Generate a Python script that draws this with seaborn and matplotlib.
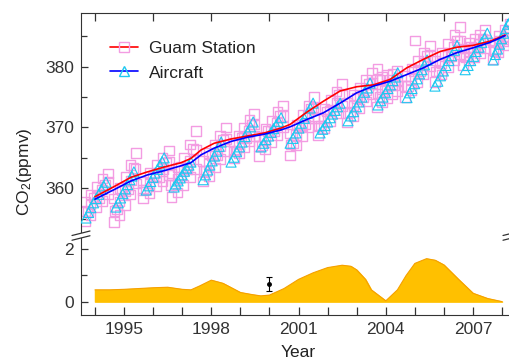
import matplotlib
matplotlib.use("Agg")
import matplotlib.pyplot as plt
from matplotlib.lines import Line2D
import seaborn as sns

# Guam station samples, one line per yearly cluster
guam_year = [
    1993.65, 1993.65, 1993.66, 1993.85, 1993.85, 1993.86, 1994.05, 1994.05, 1994.06, 1994.25, 1994.25, 1994.26, 1994.45, 1994.45, 1994.44,
    1994.66, 1994.67, 1994.66, 1994.85, 1994.85, 1994.86, 1995.04, 1995.04, 1995.05, 1995.22, 1995.23, 1995.22, 1995.41, 1995.40, 1995.41,
    1995.66, 1995.65, 1995.66, 1995.88, 1995.88, 1995.89, 1996.10, 1996.10, 1996.11, 1996.32, 1996.33, 1996.32, 1996.54, 1996.55, 1996.54,
    1996.63, 1996.62, 1996.63, 1996.84, 1996.84, 1996.85, 1997.05, 1997.05, 1997.06, 1997.26, 1997.27, 1997.26, 1997.47, 1997.48, 1997.47,
    1997.72, 1997.73, 1997.72, 1997.92, 1997.92, 1997.93, 1998.12, 1998.12, 1998.13, 1998.31, 1998.32, 1998.31, 1998.50, 1998.51, 1998.50,
    1998.78, 1998.79, 1998.78, 1998.95, 1998.95, 1998.96, 1999.12, 1999.13, 1999.12, 1999.30, 1999.30, 1999.31, 1999.47, 1999.46, 1999.47,
    1999.64, 1999.65, 1999.64, 1999.85, 1999.85, 1999.86, 2000.06, 2000.06, 2000.07, 2000.27, 2000.27, 2000.28, 2000.47, 2000.46, 2000.47,
    2000.71, 2000.72, 2000.71, 2000.92, 2000.92, 2000.93, 2001.12, 2001.12, 2001.13, 2001.33, 2001.33, 2001.34, 2001.53, 2001.52, 2001.53,
    2001.67, 2001.68, 2001.67, 2001.88, 2001.88, 2001.89, 2002.09, 2002.09, 2002.10, 2002.30, 2002.30, 2002.31, 2002.50, 2002.49, 2002.50,
    2002.67, 2002.68, 2002.67, 2002.89, 2002.89, 2002.90, 2003.10, 2003.10, 2003.11, 2003.32, 2003.32, 2003.33, 2003.53, 2003.52, 2003.53,
    2003.70, 2003.71, 2003.70, 2003.72, 2003.87, 2003.87, 2003.88, 2004.04, 2004.05, 2004.04, 2004.22, 2004.22, 2004.23, 2004.39, 2004.38, 2004.39,
    2004.66, 2004.67, 2004.66, 2004.87, 2004.87, 2004.88, 2005.09, 2005.09, 2005.10, 2005.30, 2005.30, 2005.31, 2005.52, 2005.51, 2005.52, 2005.00,
    2005.70, 2005.71, 2005.70, 2005.92, 2005.92, 2005.93, 2006.13, 2006.13, 2006.14, 2006.35, 2006.35, 2006.36, 2006.56, 2006.55, 2006.56,
    2006.66, 2006.67, 2006.66, 2006.85, 2006.85, 2006.86, 2007.04, 2007.04, 2007.05, 2007.23, 2007.23, 2007.24, 2007.42, 2007.41, 2007.42,
    2007.69, 2007.70, 2007.69, 2007.88, 2007.88, 2007.89, 2008.08, 2008.08, 2008.09, 2008.26, 2008.26, 2008.27,
]
guam_co2 = [
    354.6, 356.2, 357.8, 355.5, 357.3, 359.0, 356.8, 358.6, 360.3, 357.9, 359.8, 361.6, 359.0, 361.0, 362.4,
    354.4, 356.3, 358.3, 355.6, 357.8, 360.0, 357.2, 359.5, 361.8, 359.0, 361.3, 363.8, 360.8, 363.2, 365.8,
    358.4, 359.7, 361.0, 359.2, 360.8, 362.5, 360.3, 362.0, 363.8, 361.2, 363.2, 365.0, 362.2, 364.3, 366.2,
    358.6, 360.5, 362.4, 359.3, 361.5, 363.4, 360.5, 362.8, 365.0, 361.8, 364.5, 367.2, 363.2, 366.3, 369.4,
    361.1, 362.8, 364.5, 362.0, 364.0, 365.8, 363.4, 365.4, 367.2, 364.8, 366.9, 368.7, 366.1, 368.1, 370.0,
    364.9, 366.2, 367.5, 365.8, 367.3, 368.7, 366.8, 368.4, 369.9, 367.7, 369.5, 371.2, 368.6, 370.5, 372.2,
    365.3, 366.9, 368.5, 366.4, 368.1, 369.8, 367.6, 369.4, 371.1, 368.8, 370.7, 372.5, 370.1, 371.9, 373.6,
    365.4, 367.2, 369.0, 367.0, 368.8, 370.5, 368.6, 370.4, 372.1, 370.0, 371.9, 373.6, 371.5, 373.3, 375.0,
    368.8, 370.2, 371.6, 369.9, 371.5, 373.0, 371.1, 372.8, 374.5, 372.3, 374.1, 375.9, 373.5, 375.4, 377.2,
    370.8, 372.4, 374.0, 371.9, 373.6, 375.3, 373.1, 374.9, 376.6, 374.3, 376.1, 377.8, 375.5, 377.3, 379.0,
    373.4, 375.6, 377.9, 379.6, 374.2, 376.3, 378.3, 374.8, 376.8, 378.6, 375.4, 377.2, 378.9, 376.0, 377.8, 379.4,
    375.0, 376.8, 378.5, 376.2, 378.0, 379.7, 377.4, 379.3, 381.0, 378.7, 380.6, 382.3, 380.0, 381.8, 383.5, 384.3,
    377.5, 379.2, 381.0, 378.7, 380.5, 382.3, 379.9, 381.9, 383.8, 381.0, 383.2, 385.2, 382.0, 384.3, 386.5,
    380.3, 381.7, 383.0, 381.0, 382.4, 383.9, 381.6, 383.1, 384.6, 382.3, 383.8, 385.3, 383.0, 384.5, 386.0,
    381.3, 382.7, 384.0, 382.4, 383.8, 385.1, 383.5, 384.9, 386.1, 384.6, 385.9, 387.0,
]
# more Guam samples lying between the columns above
guam_year_b = [
    1993.75, 1993.95, 1994.15, 1994.35, 1994.75, 1994.94, 1995.13, 1995.32,
    1995.76, 1995.99, 1996.21, 1996.44, 1996.73, 1996.94, 1997.16, 1997.37,
    1997.82, 1998.02, 1998.21, 1998.41, 1998.87, 1999.04, 1999.21, 1999.38,
    1999.74, 1999.95, 2000.16, 2000.37, 2000.81, 2001.02, 2001.22, 2001.43,
    2001.77, 2001.98, 2002.19, 2002.40, 2002.78, 2003.00, 2003.21, 2003.42,
    2003.79, 2003.79, 2003.96, 2004.13, 2004.30, 2004.77, 2004.98, 2005.20, 2005.41,
    2005.81, 2006.02, 2006.24, 2006.45, 2006.76, 2006.94, 2007.14, 2007.33,
    2007.76, 2007.91, 2008.05, 2008.20,
]
guam_co2_b = [
    356.2, 358.5, 358.3, 360.6, 356.5, 359.7, 359.9, 363.3,
    359.8, 361.9, 361.8, 364.2, 360.5, 363.5, 363.2, 366.5,
    362.8, 365.4, 365.4, 368.0, 366.2, 368.3, 368.2, 370.5,
    367.0, 369.4, 369.4, 371.9, 367.4, 370.1, 370.5, 373.1,
    370.3, 372.6, 372.8, 375.3, 372.5, 374.8, 374.9, 377.2,
    375.0, 377.8, 376.0, 377.8, 377.0, 376.8, 379.2, 379.3, 381.8,
    379.3, 381.8, 381.7, 384.3, 381.5, 383.2, 383.0, 384.6,
    382.6, 384.2, 384.2, 385.8,
]

# aircraft samples, one line per yearly cluster
aircraft_year = [
    1993.69, 1993.78, 1993.86, 1993.95, 1994.04, 1994.13, 1994.22, 1994.30, 1994.38,
    1994.72, 1994.80, 1994.88, 1994.96, 1995.04, 1995.12, 1995.20, 1995.27, 1995.34,
    1995.76, 1995.84, 1995.92, 1996.00, 1996.07, 1996.15, 1996.23, 1996.31, 1996.38,
    1996.72, 1996.79, 1996.86, 1996.93, 1997.00, 1997.08, 1997.15, 1997.23, 1997.30,
    1997.72, 1997.80, 1997.88, 1997.95, 1998.03, 1998.11, 1998.19, 1998.27, 1998.34,
    1998.68, 1998.78, 1998.87, 1998.97, 1999.06, 1999.16, 1999.25, 1999.35, 1999.44,
    1999.71, 1999.80, 1999.88, 1999.97, 2000.06, 2000.14, 2000.23, 2000.31, 2000.40,
    2000.71, 2000.81, 2000.91, 2001.01, 2001.10, 2001.20, 2001.30, 2001.40, 2001.50,
    2001.74, 2001.83, 2001.91, 2002.00, 2002.09, 2002.17, 2002.26, 2002.34, 2002.43,
    2002.70, 2002.80, 2002.89, 2002.99, 2003.08, 2003.18, 2003.27, 2003.37, 2003.46,
    2003.73, 2003.82, 2003.90, 2003.99, 2004.07, 2004.16, 2004.24, 2004.33, 2004.41,
    2004.73, 2004.82, 2004.90, 2004.99, 2005.08, 2005.16, 2005.25, 2005.33, 2005.42,
    2005.69, 2005.79, 2005.88, 2005.98, 2006.07, 2006.17, 2006.26, 2006.36, 2006.45,
    2006.73, 2006.83, 2006.92, 2007.02, 2007.11, 2007.21, 2007.30, 2007.40, 2007.49,
    2007.69, 2007.77, 2007.84, 2007.91, 2007.98, 2008.05, 2008.13, 2008.20, 2008.27,
]
aircraft_co2 = [
    355.1, 356.0, 356.8, 357.6, 358.3, 359.0, 359.8, 360.4, 361.0,
    356.9, 357.6, 358.4, 359.1, 359.9, 360.6, 361.4, 362.0, 362.7,
    359.7, 360.4, 361.1, 361.8, 362.5, 363.1, 363.8, 364.4, 365.0,
    360.2, 360.7, 361.2, 361.7, 362.2, 362.8, 363.3, 363.8, 364.3,
    361.4, 362.2, 363.0, 363.8, 364.5, 365.3, 366.1, 366.9, 367.6,
    364.3, 365.1, 366.0, 366.8, 367.6, 368.5, 369.3, 370.1, 370.9,
    366.8, 367.4, 368.0, 368.6, 369.2, 369.8, 370.4, 371.0, 371.6,
    367.4, 368.2, 369.1, 369.9, 370.7, 371.5, 372.3, 373.2, 374.0,
    369.1, 369.7, 370.3, 370.9, 371.6, 372.2, 372.8, 373.4, 374.0,
    371.1, 371.9, 372.6, 373.4, 374.2, 375.0, 375.8, 376.5, 377.3,
    373.7, 374.4, 375.0, 375.7, 376.4, 377.0, 377.7, 378.3, 379.0,
    374.9, 375.7, 376.4, 377.2, 378.0, 378.8, 379.5, 380.3, 381.1,
    376.8, 377.6, 378.5, 379.3, 380.2, 381.0, 381.8, 382.7, 383.5,
    379.5, 380.2, 381.0, 381.7, 382.5, 383.2, 384.0, 384.7, 385.5,
    381.1, 382.0, 382.9, 383.7, 384.6, 385.5, 386.3, 387.0, 387.4,
]

# smoothed trends
trend_year = [1994.0, 1994.67, 1995.24, 1995.81, 1996.39, 1996.96, 1997.3, 1997.65, 1998.1,
              1998.68, 1999.25, 1999.83, 2000.4, 2000.71, 2001.28, 2001.85, 2002.43, 2003.0,
              2003.57, 2004.15, 2004.72, 2005.29, 2005.87, 2006.44, 2007.0, 2007.59, 2008.1]
guam_trend = [358.6, 360.3, 361.8, 362.7, 363.5, 364.2, 364.9, 366.3, 367.4,
              368.1, 368.6, 369.1, 369.9, 370.5, 372.5, 374.3, 376.0, 376.7,
              377.0, 377.9, 379.8, 381.2, 382.5, 383.2, 383.5, 384.2, 385.2]
aircraft_trend = [358.2, 359.8, 361.2, 362.2, 362.9, 363.7, 364.2, 365.5, 366.6,
                  367.7, 368.4, 368.9, 369.6, 370.1, 371.3, 372.4, 374.0, 375.7,
                  376.8, 377.6, 378.7, 379.8, 381.2, 382.3, 383.1, 384.0, 385.1]

# difference Guam - aircraft
diff_year = [1994.0, 1994.5, 1995.0, 1995.5, 1996.0, 1996.5, 1997.0, 1997.3, 1997.6, 1998.0,
             1998.4, 1999.0, 1999.4, 1999.7, 2000.0, 2000.5, 2001.0, 2001.5, 2002.0, 2002.5,
             2002.8, 2003.0, 2003.3, 2003.5, 2004.0, 2004.4, 2004.7, 2005.0, 2005.4, 2005.7,
             2006.0, 2006.5, 2007.0, 2007.5, 2008.0]
diff_val = [0.45, 0.45, 0.47, 0.50, 0.53, 0.55, 0.47, 0.45, 0.60, 0.82,
            0.70, 0.35, 0.27, 0.22, 0.25, 0.50, 0.85, 1.10, 1.30, 1.39,
            1.35, 1.21, 0.85, 0.45, 0.03, 0.45, 1.00, 1.46, 1.64, 1.58,
            1.40, 0.85, 0.32, 0.12, 0.00]
err_year = [2000.0]
err_val = [0.66]
err_size = [0.27]

pink = "#F39CE2"
cyan = "#1EC8F0"
W, H = 510, 362

sns.set_style("ticks")
plt.rcParams["font.family"] = ["Liberation Sans", "DejaVu Sans"]
plt.rcParams["mathtext.default"] = "regular"
plt.rcParams["axes.edgecolor"] = "#333333"
plt.rcParams["xtick.color"] = "#333333"
plt.rcParams["ytick.color"] = "#333333"

fig = plt.figure(figsize=(W / 100, H / 100), dpi=100)
ax = fig.add_axes([81 / W, (H - 232) / H, 431 / W, 219 / H])
ax2 = fig.add_axes([81 / W, (H - 315) / H, 431 / W, 77 / H])

sns.scatterplot(x=guam_year + guam_year_b, y=guam_co2 + guam_co2_b, marker="s", s=48,
                facecolor="none", edgecolor=pink, linewidth=1.0, ax=ax, zorder=2)
sns.scatterplot(x=aircraft_year, y=aircraft_co2, marker="^", s=52, facecolor="none",
                edgecolor=cyan, linewidth=0.8, ax=ax, zorder=3)
sns.lineplot(x=trend_year, y=guam_trend, color="red", lw=1.2, sort=False,
             estimator=None, ax=ax, zorder=4)
sns.lineplot(x=trend_year, y=aircraft_trend, color="blue", lw=1.2, sort=False,
             estimator=None, ax=ax, zorder=4)

ax.set_xlim(1993.52, 2008.34)
ax.set_ylim(352.8, 388.83)
ax.spines[["bottom", "right"]].set_visible(False)
ax.xaxis.tick_top()
ax.set_xticks(range(1994, 2009, 2))
ax.set_xticklabels([])
ax.tick_params(axis="x", direction="in", length=6, width=0.9)
ax.set_yticks([360, 370, 380])
ax.set_yticks([355, 365, 375, 385], minor=True)
ax.tick_params(axis="y", which="major", direction="in", length=5, width=0.9,
               labelsize=12.5, pad=5)
ax.tick_params(axis="y", which="minor", direction="in", length=4, width=0.9)

handles = [
    Line2D([], [], color="red", lw=1.2, marker="s", mfc="none", mec=pink, ms=7),
    Line2D([], [], color="blue", lw=1.2, marker="^", mfc="none", mec=cyan, ms=7.5),
]
ax.legend(handles, ["Guam Station", "Aircraft"], loc="upper left",
          bbox_to_anchor=(0.068, 0.872), frameon=False, fontsize=12.5,
          handlelength=1.6, handletextpad=0.6, labelspacing=0.53,
          borderaxespad=0, borderpad=0, labelcolor="#222222")

ax2.fill_between(diff_year, diff_val, color="#FFC000", zorder=1)
sns.lineplot(x=diff_year, y=diff_val, color="#F5A000", lw=0.8, sort=False,
             estimator=None, ax=ax2, zorder=2)
ax2.errorbar(err_year, err_val, yerr=err_size, fmt="o", color="black", ms=2.5,
             capsize=2.5, elinewidth=0.8, capthick=0.8, zorder=3)

ax2.set_xlim(1993.52, 2008.34)
ax2.set_ylim(-0.51, 2.43)
ax2.spines[["top", "right"]].set_visible(False)
ax2.set_xticks([1995, 1998, 2001, 2004, 2007])
ax2.set_xticks(range(1994, 2009), minor=True)
ax2.tick_params(axis="x", which="both", direction="in", length=6, width=0.9,
                labelsize=12.5, pad=5)
ax2.set_yticks([0, 2])
ax2.set_yticks([1], minor=True)
ax2.tick_params(axis="y", which="major", direction="in", length=5, width=0.9,
                labelsize=12.5, pad=5)
ax2.tick_params(axis="y", which="minor", direction="in", length=4, width=0.9)
ax2.set_xlabel("")
ax2.set_ylabel("")
ax.set_xlabel("")
ax.set_ylabel("")

# axis break marks
for x0 in (81, 512):
    for dy in (0, 4.75):
        fig.add_artist(Line2D([(x0 - 9) / W, (x0 + 9) / W],
                              [1 - (235.5 + dy) / H, 1 - (231 + dy) / H],
                              transform=fig.transFigure, color="#333333", lw=0.9))

fig.text(25 / W, 1 - 172 / H, "CO$_2$(ppmv)", rotation=90, ha="center",
         va="center", fontsize=12.5, color="#222222")
fig.text(298 / W, 1 - 345 / H, "Year", ha="center", va="top", fontsize=12.5,
         color="#222222")

fig.savefig("out.png", dpi=100)
